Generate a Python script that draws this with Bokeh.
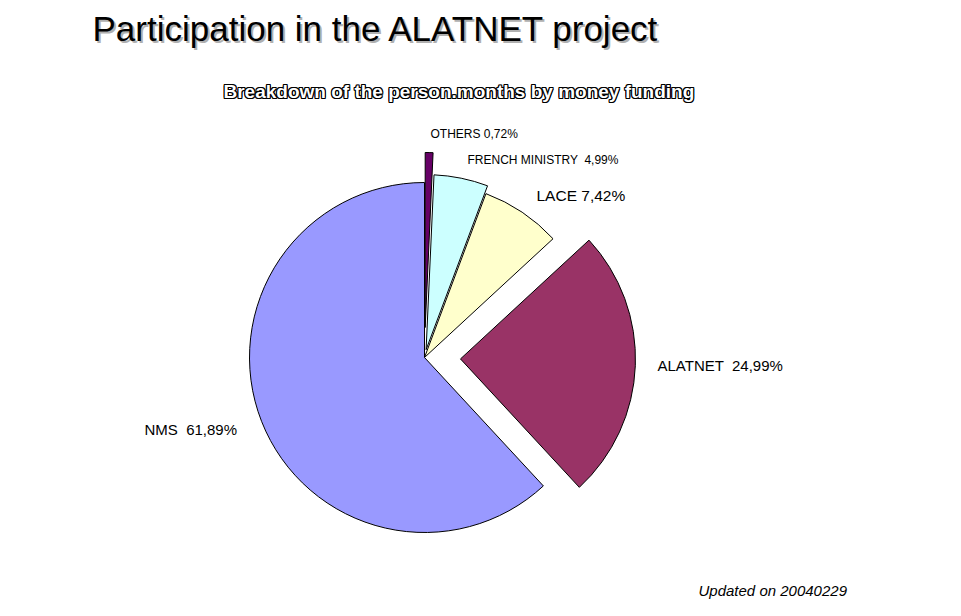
import math
from bokeh.plotting import figure
from bokeh.models import Range1d, Label, ColumnDataSource
from bokeh.embed import file_html
from bokeh.resources import INLINE

# ---- data ----
categories = ["OTHERS", "FRENCH MINISTRY", "LACE", "ALATNET", "NMS"]
shares = [0.72, 4.99, 7.42, 24.99, 61.89]
separators = [" ", " \u00a0", " ", " \u00a0", " \u00a0"]
colors = ["#660066", "#CCFFFF", "#FFFFCC", "#993366", "#9999FF"]
explode = [30, 8, 0, 36, 0]  # px offset of slices

title_text = "Participation in the ALATNET project"
subtitle_text = "Breakdown of the person.months by money funding"
footer_text = "Updated on 20040229"

# ---- layout (page coordinates, y measured downward, converted below) ----
W, H = 945, 600
def Y(yref):
    return H - yref

cx, cy, R = 424, Y(357), 175
label_layout = [  # x, anchor y, size
    (430, 133, "12px"),
    (467, 159, "12px"),
    (536, 195, "15.5px"),
    (657, 365, "15px"),
    (144, 429, "15px"),
]

p = figure(width=W, height=H, output_backend="svg", toolbar_location=None,
           x_range=Range1d(0, W), y_range=Range1d(0, H),
           min_border=0, x_axis_location=None, y_axis_location=None)
p.grid.visible = False
p.outline_line_color = None
p.background_fill_color = "white"
p.border_fill_color = "white"

total = sum(shares)
xs, ys, sa, ea = [], [], [], []
c = 0.0
for v, d in zip(shares, explode):
    c0 = c / total
    c += v
    c1 = c / total
    mid = math.pi / 2 - 2 * math.pi * (c0 + c1) / 2
    xs.append(cx + d * math.cos(mid))
    ys.append(cy + d * math.sin(mid))
    sa.append(math.pi / 2 - 2 * math.pi * c1)
    ea.append(math.pi / 2 - 2 * math.pi * c0)

src = ColumnDataSource(dict(x=xs, y=ys, start=sa, end=ea, color=colors))
p.wedge(x="x", y="y", radius=R, start_angle="start", end_angle="end",
        direction="anticlock", fill_color="color", line_color="black",
        line_width=1, source=src)

# slice labels
for name, v, sep, (lx, ly, fs) in zip(categories, shares, separators, label_layout):
    txt = name + sep + f"{v:.2f}".replace(".", ",") + "%"
    p.add_layout(Label(x=lx, y=Y(ly), text=txt, text_font="Liberation Sans",
                       text_font_size=fs, text_color="black",
                       text_baseline="alphabetic", text_align="left"))

# title with soft shadow
p.add_layout(Label(x=92, y=Y(28), x_offset=2, y_offset=-2, text=title_text,
                   text_font="Liberation Sans", text_font_size="35px",
                   text_color="#b0b0b0", text_baseline="alphabetic"))
p.add_layout(Label(x=92, y=Y(28), text=title_text,
                   text_font="Liberation Sans", text_font_size="35px",
                   text_color="black", text_baseline="alphabetic"))

# outlined subtitle
for dx, dy in [(-1, 0), (1, 0), (0, -1), (0, 1), (-1, -1), (1, 1), (-1, 1), (1, -1)]:
    p.add_layout(Label(x=223, y=Y(91), x_offset=dx, y_offset=dy, text=subtitle_text,
                       text_font="Liberation Sans", text_font_size="19px",
                       text_font_style="bold", text_color="black",
                       text_baseline="alphabetic"))
p.add_layout(Label(x=223, y=Y(91), text=subtitle_text,
                   text_font="Liberation Sans", text_font_size="19px",
                   text_font_style="bold", text_color="white",
                   text_baseline="alphabetic"))

# footer
p.add_layout(Label(x=698, y=Y(590), text=footer_text,
                   text_font="Liberation Sans", text_font_size="15px",
                   text_font_style="italic", text_color="black",
                   text_baseline="alphabetic"))

open("out.html", "w").write(file_html(p, INLINE))
